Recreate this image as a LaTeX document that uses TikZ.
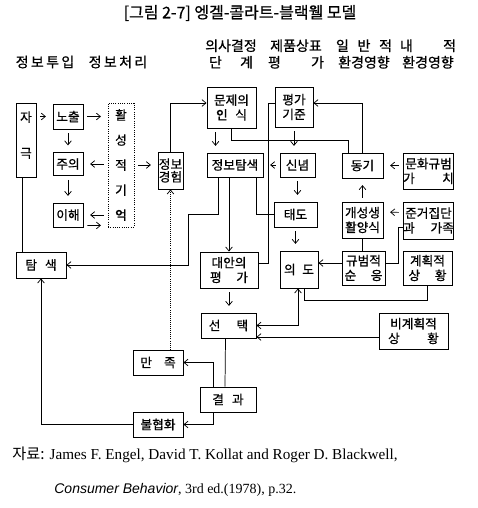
\documentclass[tikz,border=0pt]{standalone}
\usepackage{fontspec}
\setmainfont{Liberation Serif}
\newfontfamily\kr[FakeBold=0.8]{Noto Sans CJK KR}
\newfontfamily\krplain{Noto Sans CJK KR}
\newfontfamily\sfit{Liberation Sans}
\usetikzlibrary{arrows.meta,calc}

\tikzset{
    box/.style={rectangle, draw, line width=0.7pt, inner sep=0pt, align=center, font=\kr\fontsize{9.5}{11}\selectfont},
    wh/.style 2 args={minimum width=#1*0.75pt, minimum height=#2*0.75pt},
    head/.style={inner sep=0pt, align=center, font=\kr\fontsize{10.5}{12.5}\selectfont},
    short/.style={->, shorten <=3pt, shorten >=5pt}
}

\begin{document}
\begin{tikzpicture}[x=0.75pt, y=-0.75pt, line width=0.55pt, >={Straight Barb[length=3pt,width=5pt]}]
    \useasboundingbox (0,0) rectangle (478,508);

    % Title
    \node[font=\kr\fontsize{12}{14}\selectfont] (title) at (240,13) {[그림 2-7] 엥겔-콜라트-블랙웰 모델};

    % Column heads
    \node[head] (hin) at (45,62) {정\,보\,투\,입};
    \node[head] (hproc) at (118,62) {정\,보\,처\,리};
    \node[head] (hdec) at (231,54) {의사결정\\단\hspace{1.3em}계};
    \node[head] (hbrand) at (296,54) {제품상표\\\makebox[4em]{평\hfill 가}};
    \node[head] (hgen) at (364,54) {\makebox[4em]{일\hfill 반\hfill 적}\\환경영향};
    \node[head] (hint) at (428,54) {\makebox[4em]{내\hfill 적}\\환경영향};

    % Information input
    \node[box, wh={20}{74}] (stim) at (26,140) {자\\[16pt]극\\[-3pt]\mbox{}};
    \node[box, wh={50}{26}] (search) at (41,265) {탐\hspace{6pt}색};

    % Information processing
    \node[box, wh={30}{25}] (expo) at (68,116.5) {노출};
    \node[box, wh={30}{23}] (atten) at (68,164) {주의};
    \node[box, wh={30}{24}] (compr) at (68,215) {이해};
    \node[box, wh={26}{124}, densely dotted, line width=0.6pt] (memory) at (121,165) {활\\[7.75pt]성\\[7.75pt]적\\[7.75pt]기\\[7.75pt]억};
    \node[box, wh={25}{37}] (exper) at (170.5,170.5) {정보\\[-1.5pt]경험};

    % Decision process stages
    \node[box, wh={49}{41}] (prob) at (231.5,107.5) {문제의\\인\hspace{0.6em}식};
    \node[box, wh={56}{24}] (infos) at (235,165) {정보탐색};
    \node[box, wh={58}{36}] (alter) at (229,270) {대안의\\\makebox[3em]{평\hfill 가}};
    \node[box, wh={55}{25}] (choice) at (228.5,325.5) {선\hspace{12pt}택};
    \node[box, wh={56}{25}] (result) at (228,399.5) {결\hspace{6pt}과};
    \node[box, wh={50}{25}] (satis) at (158,362.5) {만\hspace{9pt}족};
    \node[box, wh={50}{25}] (disso) at (158,424.5) {불협화};

    % Product brand evaluation
    \node[box, wh={38}{40}] (crit) at (294,107) {평가\\기준};
    \node[box, wh={35}{24}] (belief) at (297.5,165) {신념};
    \node[box, wh={43}{25}] (attit) at (295.5,214.5) {태도};
    \node[box, wh={38}{37}] (intent) at (299,269.5) {의\hspace{5pt}도};

    % General environmental influences
    \node[box, wh={41}{25}] (motive) at (362.5,165.5) {동기};
    \node[box, wh={41}{36}] (life) at (362.5,220) {개성생\\활양식};
    \node[box, wh={43}{34}] (norm) at (363.5,268) {규범적\\\makebox[3em]{순\hfill 응}};

    % Internal environmental influences
    \node[box, wh={47}{36}] (culture) at (428.5,171) {문화규범\\\makebox[4em]{가\hfill 치}};
    \node[box, wh={47}{37}] (ref) at (428.5,220.5) {준거집단\\\makebox[4em]{과\hfill 가족}};
    \node[box, wh={49}{34}] (plan) at (427.5,268) {계획적\\\makebox[3em]{상\hfill 황}};
    \node[box, wh={69}{36}] (unplan) at (413.5,331) {비계획적\\\makebox[4em]{상\hfill 황}};

    % Input and processing arrows
    \draw[short] (stim.east |- expo.west) -- (expo.west);
    \draw[short] (expo.east) -- (expo.east -| memory.west);
    \draw[short] (expo.south) -- (atten.north);
    \draw[short] (memory.west |- atten.east) -- (atten.east);
    \draw[short] (atten.south) -- (compr.north);
    \draw[short] (memory.west |- compr.east) -- (compr.east);
    \draw[short] ($(compr.south east)+(0,-2)$) -- ($(memory.south west)+(0,-2)$);
    \draw[short] (memory.east) -- (memory.east -| exper.west);
    \coordinate (stimfoot) at ($(stim.south)+(-4,0)$);
    \draw (stimfoot) -- (stimfoot |- search.north);
    \draw[->] (exper.north) |- ([yshift=3.375pt]prob.west);
    \draw[->, densely dotted] (exper.south |- satis.north) -- (exper.south);

    % Decision arrows
    \draw[short] ($(prob.south west)+(9,0)$) -- ($(infos.north west)+(9,0)$);
    \draw (prob.south) |- (348,140) -- ($(motive.north)+(-14.5,0)$);
    \draw[->] ($(infos.south west)+(12,0)$) |- (188,214) |- (search.east);
    \draw[->] (infos.south -| alter.north) -- (alter.north);
    \draw ($(infos.south east)+(-7,0)$) |- (attit.west);
    \draw ([yshift=3pt]crit.west) -| (268,263) -- ([yshift=5.25pt]alter.east);
    \draw[short] (alter.south) -- (alter.south |- choice.north);
    \draw ($(choice.south)+(-3,0)$) -- ($(result.north)+(-3,0)$);
    \draw[->] ($(result.north)+(-15,0)$) |- (satis.east);
    \draw[->] ($(result.south)+(-15,0)$) |- (disso.east);
    \draw[->] (disso.west) -| (search.south);

    % Brand evaluation arrows
    \draw[short] (crit.south) -- (crit.south |- belief.north);
    \draw[short] (belief.west) -- (infos.east);
    \draw[short] (belief.south) -- (belief.south |- attit.north);
    \draw[short] (attit.south) -- (attit.south |- intent.north);
    \draw[<->] ($(intent.south)+(-1,0)$) |- (choice.east);

    % Environmental influence arrows
    \draw[->] (motive.north) |- ([yshift=3pt]crit.east);
    \draw[short] (culture.west |- motive.east) -- (motive.east);
    \draw[short] (life.north) -- (life.north |- motive.south);
    \draw[short] ($(ref.west)+(0,-8)$) -- ($(life.east)+(0,-8)$);
    \draw (life.south) -- (life.south |- norm.north);
    \draw ($(ref.west)+(0,6.5)$) -| (398,263) -- ($(norm.east)+(0,-5)$);
    \draw[->] ($(norm.west)+(0,-5)$) -- ($(intent.east)+(0,-6.5)$);
    \draw (plan.south) |- (304,300) -- ($(intent.south)+(5,0)$);
    \draw[->] ($(unplan.west)+(0,6)$) -- ($(choice.east)+(0,11.5)$);

    % Source
    \node[anchor=west, inner sep=0pt, font=\fontsize{11.4}{13}\selectfont] (src1) at (12,455) {{\krplain 자료:} James F. Engel, David T. Kollat and Roger D. Blackwell,};
    \node[anchor=west, inner sep=0pt, font=\fontsize{10.5}{12}\selectfont] (src2) at (54,490) {{\sfit\itshape Consumer Behavior}, 3rd ed.(1978), p.32.};
\end{tikzpicture}
\end{document}
